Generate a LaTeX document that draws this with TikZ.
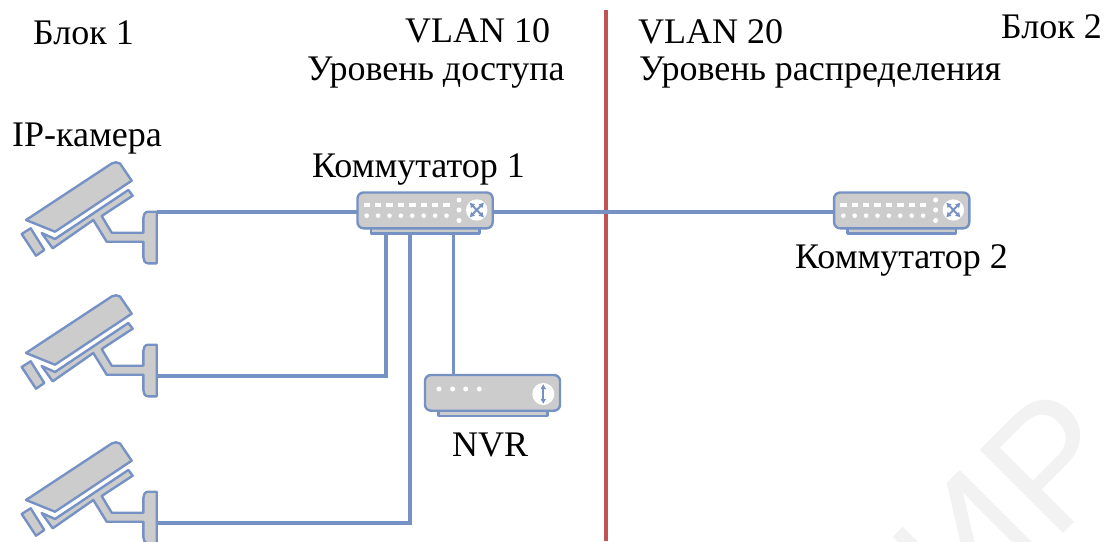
\documentclass[tikz,border=0pt]{standalone}
\usepackage{fontspec}
\setmainfont{Liberation Serif}
\newfontfamily\markfont{Liberation Sans}
\usetikzlibrary{arrows.meta}
\definecolor{linkblue}{RGB}{118,146,196}
\definecolor{bodygray}{RGB}{204,204,204}
\definecolor{redline}{RGB}{192,84,84}
\tikzset{
  link/.style={line width=3.6pt,linkblue},
  part/.style={line width=2.4pt,draw=linkblue,fill=bodygray,line join=round},
  label/.style={anchor=base west,inner sep=0pt,font=\fontsize{36}{42}\selectfont},
  led/.style={fill=white,draw=none},
  glyph/.style={linkblue,line width=2pt,{Latex[length=5pt,width=6pt]}-{Latex[length=5pt,width=6pt]}},
  camera/.pic={
    \draw[part] (26,220) -- (111.7,163.5) to[out=30,in=150] (120,163.5) -- (131.7,180.7) -- (55,231.7) -- cycle;
    \draw[part] (21.7,234) -- (30.7,228.3) -- (44.3,250) -- (36,255.7) -- cycle;
    \draw[part] (41.7,233) -- (55,239) -- (128.3,190) -- (132.7,195.7) -- (101.7,216) -- (111.7,232.7) -- (143.3,232.7)
      -- (143.3,218) to[out=90,in=180] (148,211.7) -- (156.7,211.7) -- (156.7,263.3) -- (148,263.3) to[out=180,in=-90] (143.3,257)
      -- (143.3,241.7) -- (106.7,241.7) -- (93.3,220) -- (52.7,248.3) -- cycle;
  },
  switchbox/.pic={
    \draw[part] (371,228) rectangle (479.3,233.5);
    \draw[part,rounded corners=6pt] (357.5,192.5) rectangle (492.7,228.3);
    \foreach \px in {366.7,378.1,389.5,400.9,412.3,423.7,435.1,446.5}{
      \fill[led] (\px-3.2,203) rectangle (\px+3.2,206.5);
      \fill[led] (\px,215.7) circle (2.3);
    }
    \foreach \py in {200,210,220.5}{\fill[led] (459,\py) circle (2.5);}
    \fill[led] (476.7,210) circle (10.7);
    \draw[glyph] (469.5,202.5) -- (484,217.5);
    \draw[glyph] (484,202.5) -- (469.5,217.5);
  },
}
\begin{document}
\begin{tikzpicture}[x=1pt,y=-1pt]
\useasboundingbox (0,0) rectangle (1105,541);

% watermark
\begin{scope}
\clip (0,0) rectangle (1105,541);
\node[anchor=base east,inner sep=0pt,rotate=45,black!5,font=\markfont\fontsize{171}{171}\selectfont] (stamp) at (1134.6,463) {БГУИР};
\end{scope}

% cameras
\pic at (0,0) {camera};
\pic at (0,133) {camera};
\pic at (0,280) {camera};
\coordinate (cam1) at (157,212);
\coordinate (cam2) at (157,376);
\coordinate (cam3) at (157,523);

% wall line
\coordinate (walltop) at (606,10);
\coordinate (wallend) at (606,541);
\draw[line width=3.6pt,redline] (walltop) -- (wallend);

% links, under the devices
\coordinate (swonewest) at (358,212);
\coordinate (swoneeast) at (493,212);
\coordinate (swtwowest) at (835,212);
\coordinate (swonea) at (386,232);
\coordinate (swoneb) at (410,232);
\coordinate (swonec) at (453.5,232);
\coordinate (nvrtop) at (453.5,376);
\draw[link] (cam1) -- (swonewest);
\draw[link] (swoneeast) -- (swtwowest);
\draw[link] (swonea) |- (cam2);
\draw[link] (swoneb) |- (cam3);
\draw[link] (swonec) -- (nvrtop);

% switches
\pic at (0,0) {switchbox};
\pic at (476.6,0) {switchbox};

% nvr
\draw[part] (438.3,410) rectangle (547.3,416);
\draw[part,rounded corners=6pt] (425,375) rectangle (560,410.7);
\foreach \px in {439,452.6,465.7,479.3}{\fill[led] (\px,389) circle (2.5);}
\fill[led] (543.3,394) circle (11);
\draw[glyph] (543.3,384) -- (543.3,404);

% texts
\node[label] (blokone) at (33,44) {Блок 1};
\node[label] (vlanten) at (405,42) {VLAN 10};
\node[label] (access) at (307,80) {Уровень доступа};
\node[label] (vlantwenty) at (638,43) {VLAN 20};
\node[label] (distrib) at (639,80) {Уровень распределения};
\node[label] (bloktwo) at (1001,38) {Блок 2};
\node[label] (ipcam) at (12,146) {IP-камера};
\node[label] (swone) at (312,177) {Коммутатор 1};
\node[label] (swtwo) at (795,268) {Коммутатор 2};
\node[label] (nvr) at (452,456) {NVR};
\end{tikzpicture}
\end{document}
